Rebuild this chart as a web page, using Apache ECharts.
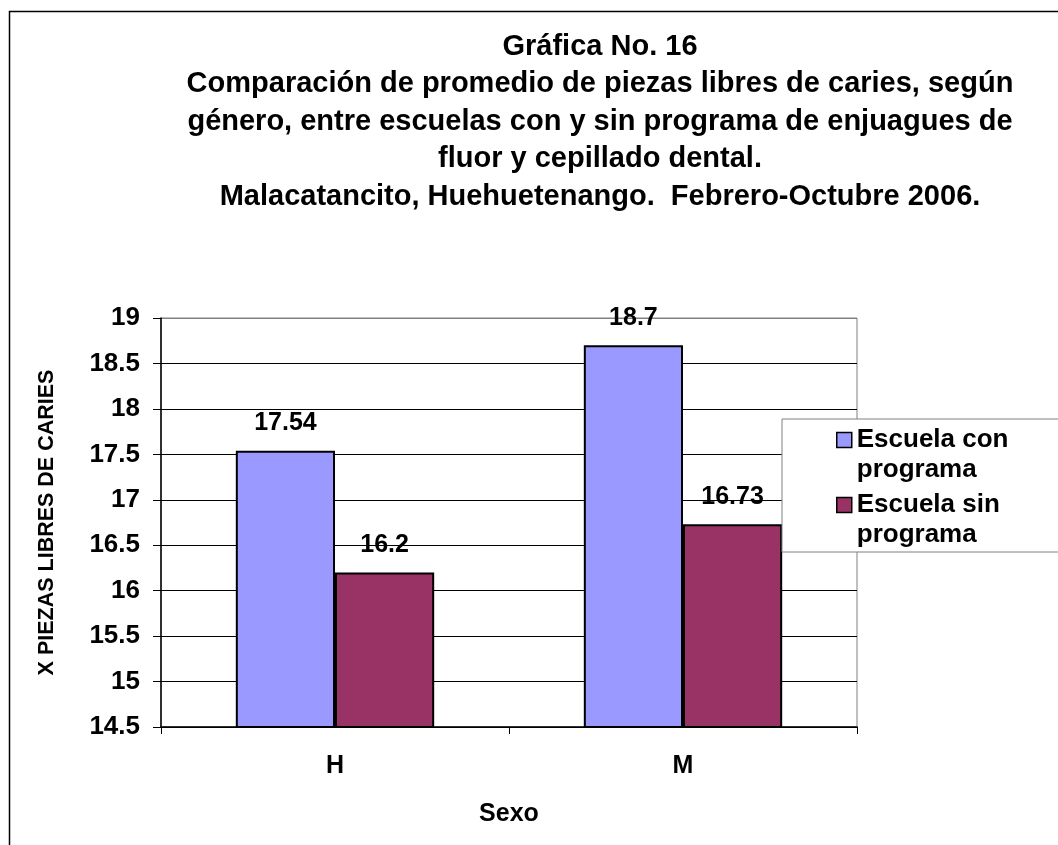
<!DOCTYPE html>
<html>
<head>
<meta charset="utf-8">
<script src="https://cdn.jsdelivr.net/npm/echarts@6/dist/echarts.min.js"></script>
<style>
  html, body { margin: 0; padding: 0; background: #fff; }
  #main { width: 1058px; height: 845px; }
</style>
</head>
<body>
<div id="main"></div>
<script>
const categories = ["H", "M"];
const conPrograma = [17.54, 18.7];
const sinPrograma = [16.2, 16.73];
const seriesNames = ["Escuela con programa", "Escuela sin programa"];
const titleLines = [
  "Gráfica No. 16",
  "Comparación de promedio de piezas libres de caries, según",
  "género, entre escuelas con y sin programa de enjuagues de",
  "fluor y cepillado dental.",
  "Malacatancito, Huehuetenango.  Febrero-Octubre 2006."
];

let chartDom = document.getElementById("main");
let myChart = echarts.init(chartDom);
let option;

const font = "Liberation Sans, Arial, sans-serif";

// 10 split lines from 14.5 to 19, the top one is the gray plot border
const splitColors = ["#000", "#000", "#000", "#000", "#000", "#000", "#000", "#000", "#000", "#808080"];

const labelStyle = {
  show: true,
  position: "top",
  distance: 15,
  color: "#000",
  fontFamily: font,
  fontWeight: "bold",
  fontSize: 25,
};

option = {
  backgroundColor: "#fff",
  animation: false,
  textStyle: { fontFamily: font },
  title: {
    text: titleLines.join("\n"),
    left: 595,
    top: 23,
    textAlign: "center",
    textStyle: {
      fontFamily: font,
      fontWeight: "bold",
      fontSize: 29,
      lineHeight: 37.5,
      color: "#000",
    },
  },
  graphic: [
    {
      // outer chart border (cut off at right and bottom)
      type: "rect",
      left: 7,
      top: 9,
      shape: { width: 1300, height: 1000 },
      style: { fill: "none", stroke: "#000", lineWidth: 1.5 },
      silent: true,
      z: -1,
    },
  ],
  legend: {
    orient: "vertical",
    left: 782,
    top: 419,
    padding: [6, 300, 2, 54],
    itemGap: 5,
    itemWidth: 15,
    itemHeight: 45,
    icon: "path://M0,0h15v15h-15z M0,45",
    backgroundColor: "#fff",
    borderColor: "#808080",
    borderWidth: 1,
    itemStyle: { borderColor: "#000", borderWidth: 1.5 },
    formatter: (name) => name.replace(" programa", "\nprograma"),
    textStyle: {
      fontFamily: font,
      fontWeight: "bold",
      fontSize: 26,
      lineHeight: 30,
      color: "#000",
    },
    data: seriesNames,
  },
  grid: {
    left: 161,
    top: 318,
    right: 201,
    bottom: 118,
    show: true,
    borderColor: "#808080",
    borderWidth: 1,
    containLabel: false,
  },
  xAxis: {
    type: "category",
    data: categories,
    name: "Sexo",
    nameLocation: "middle",
    nameGap: 75,
    nameTextStyle: { fontFamily: font, fontWeight: "bold", fontSize: 25, color: "#000" },
    axisLine: { lineStyle: { color: "#000", width: 1.5 } },
    axisTick: { show: true, length: 7, lineStyle: { color: "#000" } },
    axisLabel: {
      margin: 27,
      color: "#000",
      fontFamily: font,
      fontWeight: "bold",
      fontSize: 25,
    },
  },
  yAxis: {
    type: "value",
    min: 14.5,
    max: 19,
    interval: 0.5,
    name: "X PIEZAS LIBRES DE CARIES",
    nameLocation: "middle",
    nameRotate: 90,
    nameGap: 103,
    nameTextStyle: { fontFamily: font, fontWeight: "bold", fontSize: 21.5, color: "#000" },
    axisLine: { show: true, lineStyle: { color: "#000", width: 1.5 } },
    axisTick: { show: true, length: 8, lineStyle: { color: "#000" } },
    axisLabel: {
      margin: 21,
      color: "#000",
      fontFamily: font,
      fontWeight: "bold",
      fontSize: 26,
    },
    splitLine: { show: true, lineStyle: { color: splitColors, width: 1 } },
  },
  series: [
    {
      name: seriesNames[0],
      type: "bar",
      data: conPrograma,
      barGap: "0%",
      barCategoryGap: "43%",
      itemStyle: { color: "#9999FF", borderColor: "#000", borderWidth: 2 },
      label: labelStyle,
    },
    {
      name: seriesNames[1],
      type: "bar",
      data: sinPrograma,
      barGap: "0%",
      barCategoryGap: "43%",
      itemStyle: { color: "#993366", borderColor: "#000", borderWidth: 2 },
      label: labelStyle,
    },
  ],
};

option && myChart.setOption(option);
</script>
</body>
</html>
